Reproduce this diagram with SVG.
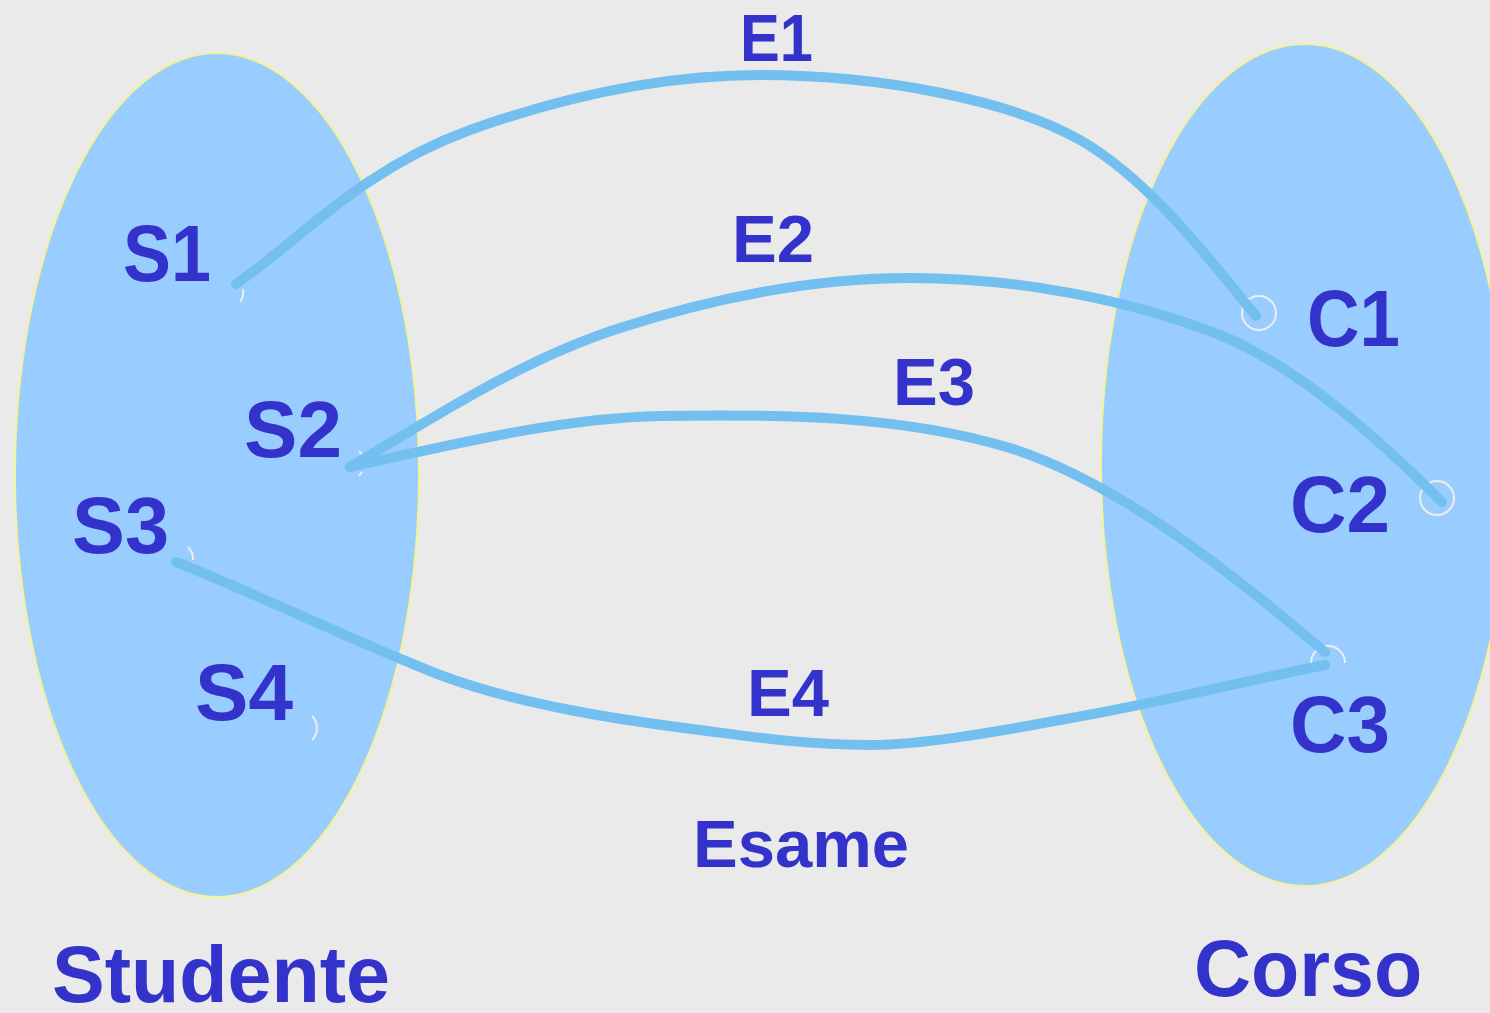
<svg xmlns="http://www.w3.org/2000/svg" width="1490" height="1013" viewBox="0 0 1490 1013">
<style>
.set{fill:#99CCFF;stroke:#F2F29A;stroke-width:2}
.lbl{font-family:"Liberation Sans",Arial,sans-serif;font-weight:bold;fill:#3333CC}
.big{font-size:79px}
.rel{font-size:67px}
.title{font-size:79px}
.edge{fill:none;stroke:#73BFF0;stroke-width:10;stroke-linecap:round;stroke-linejoin:round}
.pt{fill:none;stroke:#EEEEEE;stroke-width:2}
</style>
<rect width="1490" height="1013" fill="#EAEAEA"/>
<g id="Studente">
<ellipse class="set" cx="217" cy="475" rx="202" ry="422"/>
<text class="lbl title" x="52" y="1002">Studente</text>
</g>
<g id="Corso">
<ellipse class="set" cx="1305" cy="465" rx="204" ry="421"/>
<text class="lbl title" x="1194" y="996">Corso</text>
</g>
<g id="S1"><text class="lbl big" x="123" y="281" textLength="88" lengthAdjust="spacingAndGlyphs">S1</text><path class="pt" d="M243,289 A17,17 0 0,1 240,302"/></g>
<g id="S2"><text class="lbl big" x="244" y="457" textLength="98" lengthAdjust="spacingAndGlyphs">S2</text><path class="pt" d="M359,451 A17,17 0 0,1 362,455 M362,472 A17,17 0 0,1 359,476"/></g>
<g id="S3"><text class="lbl big" x="72" y="553" textLength="97" lengthAdjust="spacingAndGlyphs">S3</text><path class="pt" d="M188,547 A17,17 0 0,1 193,560"/></g>
<g id="S4"><text class="lbl big" x="195" y="720" textLength="98" lengthAdjust="spacingAndGlyphs">S4</text><path class="pt" d="M312,716 A17,17 0 0,1 312,740"/></g>
<g id="C1"><text class="lbl big" x="1307" y="346" textLength="93" lengthAdjust="spacingAndGlyphs">C1</text><circle class="pt" cx="1259" cy="313" r="17"/></g>
<g id="C2"><text class="lbl big" x="1290" y="532" textLength="100" lengthAdjust="spacingAndGlyphs">C2</text><circle class="pt" cx="1437" cy="498" r="17"/></g>
<g id="C3"><text class="lbl big" x="1290" y="752" textLength="100" lengthAdjust="spacingAndGlyphs">C3</text><path class="pt" d="M1311,663 A17,17 0 1,1 1345,663"/></g>
<g id="connectors">
<path class="edge" d="M236,284 C300,240 360,170 470,130 C560,98 660,75 760,75 C880,75 1010,100 1080,140 C1150,180 1210,260 1256,316"/>
<path class="edge" d="M350,467 C430,420 520,360 620,328 C720,296 820,278 910,278 C1020,278 1130,300 1220,335 C1300,368 1380,440 1442,502"/>
<path class="edge" d="M350,467 C450,445 560,418 660,416 C780,414 900,415 1010,448 C1120,482 1240,580 1325,652"/>
<path class="edge" d="M1325,665 C1240,682 1150,705 1060,720 C990,733 920,745 870,745 C800,745 740,735 700,730 C620,720 520,705 440,675 C350,640 260,595 176,562"/>
</g>
<g id="labels">
<text class="lbl rel" x="740" y="61" textLength="73" lengthAdjust="spacingAndGlyphs">E1</text>
<text class="lbl rel" x="732" y="262" textLength="82" lengthAdjust="spacingAndGlyphs">E2</text>
<text class="lbl rel" x="893" y="405" textLength="82" lengthAdjust="spacingAndGlyphs">E3</text>
<text class="lbl rel" x="747" y="716" textLength="82" lengthAdjust="spacingAndGlyphs">E4</text>
<text class="lbl rel" x="693" y="867">Esame</text>
</g>
</svg>
